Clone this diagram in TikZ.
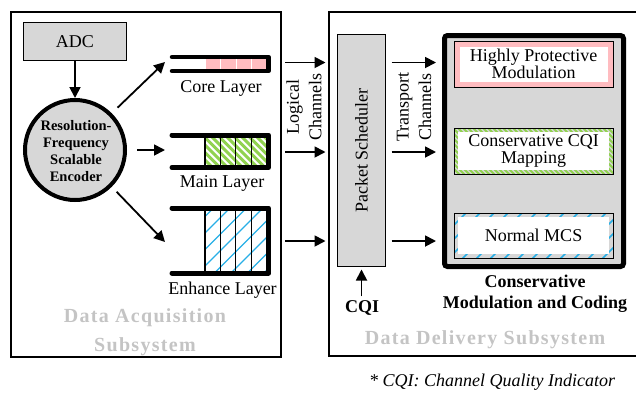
\documentclass[tikz,border=0pt]{standalone}
\usepackage{fontspec}
\setmainfont{Liberation Serif}
\newfontfamily\trackedserif[LetterSpace=6.5]{Liberation Serif}
\usetikzlibrary{arrows.meta}
\definecolor{panelgray}{RGB}{215,215,215}
\definecolor{titlegray}{RGB}{196,196,196}
\definecolor{corepink}{RGB}{255,188,192}
\definecolor{stripegreen}{RGB}{145,210,80}
\definecolor{stripeblue}{RGB}{40,175,230}
\tikzset{
  arr/.style={line width=1.8pt,-{Triangle[length=11pt,width=11pt]}},
  frame/.style={draw, line width=1.3pt},
  txt/.style={font=\fontsize{18}{19}\selectfont, inner sep=0pt},
  bufline/.style={line width=5pt, line cap=round, line join=round},
  cellsep/.style={line width=1.2pt},
  systitle/.style={text=titlegray, font=\trackedserif\bfseries\fontsize{20}{29}\selectfont, align=center, inner sep=0pt},
  inbox/.style={draw, line width=1pt, minimum width=159pt, align=center, inner sep=0pt,
                font=\fontsize{18}{16.5}\selectfont},
}
\begin{document}
\begin{tikzpicture}[x=1pt,y=-1pt]
\clip (0,0) rectangle (636,394);

% ---------- subsystem frames ----------
\node[frame, minimum width=270pt, minimum height=345pt, anchor=north west, outer sep=0pt] (acq) at (11,12) {};
\node[frame, minimum width=320pt, minimum height=344pt, anchor=north west, outer sep=0pt] (dlv) at (329,12) {};

% ---------- acquisition side ----------
\node[frame, fill=panelgray, minimum width=103pt, minimum height=38pt, txt] (adc) at (75,41.5) {ADC};
\node[draw, line width=4pt, fill=panelgray, circle, minimum size=100pt, inner sep=0pt] (enc) at (75,150) {};
\node[align=center, inner sep=0pt, font=\bfseries\fontsize{14.5}{16.7}\selectfont] (enctext) at (76,151)
  {Resolution-\\Frequency\\Scalable\\Encoder};
\draw[arr] (adc) -- (enc);

% core layer buffer
\foreach \i in {0,...,3}
  \fill[corepink, draw=white, line width=0.6pt] ({205+15.4*\i},58.5) rectangle ++(15.4,11);
\draw[bufline, line width=4.5pt] (172,57) -- (268.5,57) -- (268.5,71) -- (172,71);
\coordinate (coreR) at (270.5,62.5);
\coordinate (coreL) at (165,62);

% main layer buffer
\begin{scope}
  \clip (205,137.5) rectangle (266.5,165);
  \foreach \k in {0,...,15}
    \draw[stripegreen, line width=3pt] ({160+7.5*\k},130) -- ++(45,45);
\end{scope}
\foreach \xx in {205,220.4,235.8,251.1}
  \draw[cellsep] (\xx,137.5) -- (\xx,165);
\draw[bufline] (172,135) -- (268.5,135) -- (268.5,167.5) -- (172,167.5);
\coordinate (mainR) at (270.5,152);
\coordinate (mainL) at (165,150);

% enhance layer buffer
\begin{scope}
  \clip (205,210.5) rectangle (266.5,270.5);
  \foreach \k in {0,...,9}
    \draw[stripeblue, line width=1.3pt] ({125+16.5*\k},280) -- ++(80,-80);
\end{scope}
\foreach \xx in {205,220.4,235.8,251.1}
  \draw[cellsep] (\xx,210.5) -- (\xx,270.5);
\draw[bufline] (172,208) -- (268.5,208) -- (268.5,273) -- (172,273);
\coordinate (enhR) at (270.5,241);
\coordinate (enhL) at (165,242);

\node[txt] (corelbl) at (221,88) {Core Layer};
\node[txt] (mainlbl) at (222,183) {Main Layer};
\node[txt] (enhlbl) at (222.5,290) {Enhance Layer};

\draw[arr, shorten <=8pt] (enc.45) -- (coreL);
\draw[arr, shorten <=10pt] (enc.east) -- (mainL);
\draw[arr, shorten <=7pt] (enc.-45) -- (enhL);

\node[systitle] (acqtitle) at (145,332) {Data Acquisition\\Subsystem};

% ---------- delivery side ----------
\node[frame, fill=panelgray, minimum width=48pt, minimum height=232pt, outer sep=0pt] (sched) at (361.5,150.5) {};
\node[txt, rotate=90] (schedtext) at (sched) {Packet Scheduler};

% logical channels
\draw[arr, shorten <=14.5pt, shorten >=12pt] (coreR) -- (sched.west |- coreR);
\draw[arr, shorten <=14.5pt, shorten >=12pt] (mainR) -- (sched.west |- mainR);
\draw[arr, shorten <=14.5pt, shorten >=12pt] (enhR) -- (sched.west |- enhR);
\node[txt, rotate=90, align=center, font=\fontsize{18}{22.5}\selectfont] (logical) at (304,107) {Logical\\Channels};

% conservative modulation and coding block
\node[draw, line width=5pt, fill=panelgray, rounded corners=3pt, minimum width=179pt, minimum height=231pt, outer sep=0pt] (cmc) at (534,151) {};
\draw[arr, shorten <=6pt, shorten >=8.5pt] (sched.east |- coreR) -- (cmc.west |- coreR);
\draw[arr, shorten <=6pt, shorten >=8.5pt] (sched.east |- mainR) -- (cmc.west |- mainR);
\draw[arr, shorten <=6pt, shorten >=8.5pt] (sched.east |- enhR) -- (cmc.west |- enhR);
\node[txt, rotate=90, align=center, font=\fontsize{18}{22.5}\selectfont] (transport) at (414,107) {Transport\\Channels};

% highly protective modulation: solid pink band
\fill[corepink] (454,41) rectangle (613,87);
\fill[white] (459.5,46.5) rectangle (607.5,81.5);
\node[inbox, minimum height=46pt] (hpm) at (533.5,64) {Highly Protective\\Modulation};

% conservative CQI mapping: green striped band
\begin{scope}
  \clip (454,128) rectangle (613,174);
  \foreach \k in {0,...,44}
    \draw[stripegreen, line width=1.8pt] ({390+5*\k},120) -- ++(60,60);
\end{scope}
\fill[white] (458,132) rectangle (609,170);
\node[inbox, minimum height=46pt] (ccm) at (533.5,151) {Conservative CQI\\Mapping};

% normal MCS: sparse blue hatching band
\begin{scope}
  \clip (454,213) rectangle (613,258);
  \foreach \k in {0,...,15}
    \draw[stripeblue, line width=1.5pt] ({400+14*\k},265) -- ++(55,-55);
\end{scope}
\fill[white] (458,217) rectangle (609,254);
\node[inbox, minimum height=45pt] (mcs) at (533.5,235.5) {Normal MCS};

\node[align=center, inner sep=0pt, font=\bfseries\fontsize{18}{21}\selectfont] (cmclbl) at (535,294)
  {Conservative\\Modulation and Coding};

\node[inner sep=0pt, font=\bfseries\fontsize{18}{19}\selectfont] (cqi) at (362,308) {CQI};
\draw[arr, shorten <=4pt, shorten >=3pt] (cqi.north -| sched.south) -- (sched.south);

\node[systitle] (dlvtitle) at (485,340) {Data Delivery Subsystem};

\node[inner sep=0pt, font=\itshape\fontsize{18}{19}\selectfont] (note) at (492,382) {* CQI: Channel Quality Indicator};
\end{tikzpicture}
\end{document}
